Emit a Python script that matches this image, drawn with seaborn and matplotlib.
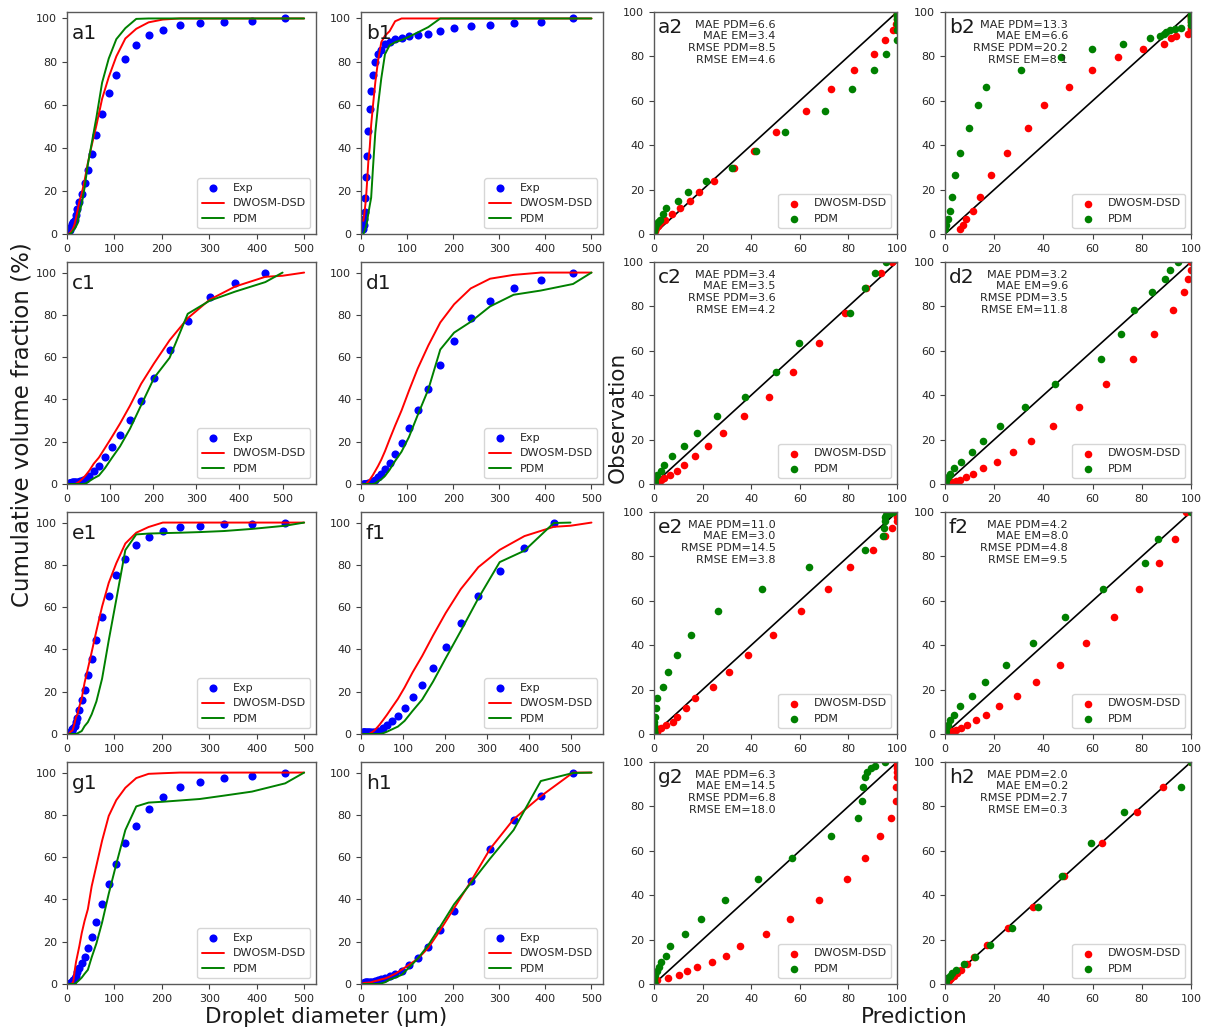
import matplotlib
matplotlib.use("Agg")
import matplotlib.pyplot as plt
import seaborn as sns

sns.set_style("ticks")
plt.rcParams["font.family"] = ["DejaVu Sans"]

# Droplet diameter classes (um) shared by all measured distributions
diameter = [5.0, 5.9, 7.0, 8.2, 9.7, 11.5, 13.5, 16, 19, 22, 26, 31, 37, 44,
            52, 62, 74, 88, 104, 123, 146, 172, 202, 238, 280, 331, 390, 460]

# Cumulative volume fraction (%) per case: experiment, DWOSM-DSD, PDM
exp_a = [1.5, 2.0, 2.6, 3.2, 3.8, 4.6, 5.5, 6.5, 8.8, 11.5, 14.7, 18.7, 23.8, 29.8,
         37.2, 45.8, 55.5, 65.2, 74.0, 81.3, 87.5, 92.1, 94.8, 96.8, 98.0, 98.5, 99.0, 100.0]
dwosm_a = [0.3, 0.5, 0.8, 1.0, 1.5, 2.0, 3.0, 4.6, 7.5, 10.6, 15.0, 18.7, 24.8, 33.0,
           41.0, 50.4, 62.7, 72.8, 82.4, 90.7, 95.2, 98.2, 99.5, 100, 100, 100, 100, 100]
pdm_a = [0, 0, 0, 0.3, 0.6, 1.0, 1.8, 2.4, 3.5, 4.8, 9.9, 13.9, 21.4, 32.3,
         42.0, 54.1, 70.2, 81.4, 90.4, 95.5, 99.8, 100, 100, 100, 100, 100, 100, 100]

exp_b = [2.3, 4.0, 6.9, 10.4, 16.6, 26.6, 36.4, 47.6, 58.0, 66.4, 73.7, 79.6, 83.3, 85.6,
         88.2, 89.2, 90.3, 91.1, 91.7, 92.5, 92.9, 94.2, 95.4, 96.6, 97.2, 98.0, 98.3, 100.0]
dwosm_b = [6.1, 7.2, 8.6, 11.2, 14.1, 18.7, 25.1, 33.9, 40.3, 50.5, 59.7, 70.3, 80.4, 89.0,
           92.0, 94.1, 98.7, 100, 100, 100, 100, 100, 100, 100, 100, 100, 100, 100]
pdm_b = [0, 0.5, 1.1, 1.9, 2.7, 4.2, 6.1, 9.6, 13.3, 16.8, 30.7, 47.0, 59.7, 72.2,
         83.4, 87.5, 89.0, 90.0, 91.5, 93.5, 96.0, 100, 100, 100, 100, 100, 100, 100]

exp_c = [0.3, 0.4, 0.5, 0.6, 0.7, 0.8, 0.9, 1.0, 1.0, 1.0, 1.0, 1.3, 1.8, 2.5,
         4.0, 6.0, 8.7, 12.6, 17.3, 23.1, 30.5, 39.3, 50.3, 63.5, 77.2, 88.5, 95.2, 100.0]
dwosm_c = [0, 0, 0, 0, 0, 0, 0, 0, 0, 0.3, 0.8, 1.5, 2.7, 4.3,
           6.4, 9.6, 12.5, 17.0, 22.2, 28.6, 37.0, 47.4, 57.1, 68.0, 78.4, 87.2, 93.4, 98.0]
pdm_c = [0, 0, 0, 0, 0, 0, 0, 0, 0, 0, 0, 0, 0, 0.3,
         1.4, 2.7, 4.0, 7.5, 12.3, 17.8, 26.1, 37.3, 50.2, 59.7, 80.5, 86.7, 91.0, 95.5]

exp_d = [0.2, 0.2, 0.2, 0.2, 0.2, 0.2, 0.2, 0.3, 0.5, 0.8, 1.2, 1.9, 3.1, 4.7,
         7.0, 10.0, 14.3, 19.4, 26.3, 34.8, 45.0, 56.1, 67.4, 78.4, 86.5, 92.5, 96.5, 100.0]
dwosm_d = [0, 0, 0, 0, 0, 0, 0.6, 1.2, 2.0, 3.0, 4.3, 6.2, 8.5, 11.5,
           15.5, 21.1, 27.6, 34.8, 44.1, 54.6, 65.5, 76.4, 85.0, 92.5, 97.1, 98.9, 100, 100]
pdm_d = [0, 0, 0, 0, 0, 0, 0, 0, 0, 0, 0, 0.3, 1.3, 2.2,
         3.8, 6.7, 10.9, 15.3, 22.2, 32.6, 44.7, 63.6, 71.6, 76.7, 84.0, 89.5, 91.5, 94.6]

exp_e = [0.3, 0.5, 0.8, 1.1, 1.5, 2.2, 2.8, 3.9, 5.5, 7.7, 11.5, 16.0, 21.0, 28.0,
         35.4, 44.5, 55.2, 65.4, 75.2, 82.7, 89.2, 93.0, 95.8, 97.8, 98.6, 99.2, 99.5, 100.0]
dwosm_e = [0.3, 0.6, 0.9, 1.2, 1.4, 1.6, 3.0, 5.1, 8.0, 9.3, 13.0, 16.8, 24.2, 30.9,
           38.7, 48.8, 60.3, 71.5, 80.8, 90.1, 95.2, 97.9, 100, 100, 100, 100, 100, 100]
pdm_e = [0, 0, 0, 0, 0, 0, 0, 0, 0, 0.3, 0.8, 1.4, 3.7, 5.6,
         9.3, 15.4, 26.2, 44.3, 63.7, 87.0, 94.4, 94.8, 95.0, 95.2, 95.5, 96.0, 97.0, 98.5]

exp_f = [0.8, 0.8, 0.8, 0.8, 0.8, 0.8, 0.8, 0.8, 0.8, 0.8, 0.8, 1.0, 1.2, 1.6,
         2.8, 4.2, 6.1, 8.6, 12.4, 17.3, 23.4, 31.3, 41.2, 52.7, 65.3, 77.2, 88.0, 100.0]
dwosm_f = [0, 0, 0, 0, 0, 0, 0, 0, 0, 0.3, 0.8, 1.5, 2.7, 4.3,
           6.4, 9.1, 12.6, 16.6, 22.0, 29.1, 36.9, 46.6, 57.2, 68.5, 78.9, 87.1, 93.6, 98.0]
pdm_f = [0, 0, 0, 0, 0, 0, 0, 0, 0, 0, 0, 0, 0, 0,
         0.3, 1.1, 2.2, 3.5, 6.2, 10.9, 16.3, 24.8, 35.8, 48.7, 64.2, 81.3, 86.7, 99.8]

exp_g = [0.2, 0.3, 0.4, 0.5, 0.6, 0.8, 1.7, 2.8, 3.9, 5.9, 7.5, 9.9, 12.7, 17.1,
         22.4, 29.3, 38.0, 47.3, 56.8, 66.5, 74.8, 82.6, 88.6, 93.1, 95.5, 97.5, 98.3, 100.0]
dwosm_g = [0, 0, 0, 0, 0.2, 0.4, 1.4, 5.9, 10.4, 13.6, 17.9, 24.0, 29.8, 35.4,
           46.2, 56.0, 67.8, 79.5, 87.0, 92.8, 97.4, 99.4, 99.7, 100, 100, 100, 100, 100]
pdm_g = [0, 0, 0, 0, 0, 0, 0, 0, 0.5, 1.1, 1.9, 3.0, 4.8, 6.7,
         12.6, 19.2, 29.1, 42.7, 56.8, 72.8, 84.0, 85.8, 86.2, 86.8, 87.5, 89.1, 91.0, 94.9]

exp_h = [0.6, 0.6, 0.7, 0.7, 0.8, 0.8, 0.8, 0.8, 0.8, 0.8, 1.1, 1.4, 1.7, 2.2,
         2.7, 3.6, 4.9, 6.1, 8.8, 12.2, 17.5, 25.4, 34.7, 48.8, 63.7, 77.5, 88.9, 100.0]
dwosm_h = [0.5, 0.5, 0.5, 0.5, 0.6, 0.6, 0.6, 0.7, 0.7, 0.8, 1.1, 1.4, 1.7, 2.2,
           2.6, 3.5, 4.8, 6.7, 9.1, 11.9, 17.1, 25.5, 35.9, 48.4, 63.9, 77.9, 88.8, 100]
pdm_h = [0, 0, 0, 0, 0, 0, 0, 0, 0, 0, 0, 0, 0, 0.3,
         0.8, 2.0, 3.0, 4.3, 7.7, 12.0, 18.4, 27.2, 37.7, 47.6, 59.3, 72.8, 96.0, 99.8]

# Model curves continue past the largest measured class
dwosm_tail = {"a": ([500], [100]), "b": ([500], [100]), "c": ([500, 550], [98.5, 100]),
              "d": ([500], [100]), "e": ([500], [100]), "f": ([500, 550], [98.5, 100]),
              "g": ([500], [100]), "h": ([500], [100])}
pdm_tail_x = [500]
pdm_tail_y = [100]

# Error metrics per case
cases = ["a", "b", "c", "d", "e", "f", "g", "h"]
mae_pdm = [6.6, 13.3, 3.4, 3.2, 11.0, 4.2, 6.3, 2.0]
mae_em = [3.4, 6.6, 3.5, 9.6, 3.0, 8.0, 14.5, 0.2]
rmse_pdm = [8.5, 20.2, 3.6, 3.5, 14.5, 4.8, 6.8, 2.7]
rmse_em = [4.6, 8.1, 4.2, 11.8, 3.8, 9.5, 18.0, 0.3]

data = {
    "a": (exp_a, dwosm_a, pdm_a), "b": (exp_b, dwosm_b, pdm_b),
    "c": (exp_c, dwosm_c, pdm_c), "d": (exp_d, dwosm_d, pdm_d),
    "e": (exp_e, dwosm_e, pdm_e), "f": (exp_f, dwosm_f, pdm_f),
    "g": (exp_g, dwosm_g, pdm_g), "h": (exp_h, dwosm_h, pdm_h),
}

W, H = 1208, 1033
fig = plt.figure(figsize=(W / 100, H / 100), dpi=100)

col_left = [67, 361, 654, 945]
col_width = [249, 242, 243, 246]
row_top = [12, 262, 512, 762]
row_h = 222

TICK_FS = 8
LEG_FS = 8
NOTE_FS = 8.1
PANEL_FS = 14.5
LABEL_FS = 15.5


def make_ax(row, col):
    l = col_left[col] / W
    b = 1 - (row_top[row] + row_h) / H
    ax = fig.add_axes([l, b, col_width[col] / W, row_h / H])
    ax.tick_params(labelsize=TICK_FS, length=3.5, width=0.8, direction="out",
                   colors="0.25", labelcolor="0.15")
    for sp in ax.spines.values():
        sp.set_linewidth(1.0)
        sp.set_color("0.35")
    return ax


def distribution_panel(ax, key, row):
    exp, dw, pdm = data[key]
    sns.scatterplot(x=diameter, y=exp, ax=ax, color="blue", s=34, linewidth=0,
                    label="Exp", zorder=2)
    tx, ty = dwosm_tail[key]
    sns.lineplot(x=diameter + tx, y=dw + ty, ax=ax, color="red", lw=1.4,
                 label="DWOSM-DSD", zorder=3)
    sns.lineplot(x=diameter + pdm_tail_x, y=pdm + pdm_tail_y, ax=ax,
                 color="green", lw=1.4, label="PDM", zorder=3)
    xmax = max(diameter + tx + pdm_tail_x)
    ax.set_xlim(0, xmax * 1.05)
    ax.set_ylim(0, 103 if row == 0 else 105)
    ax.set_xticks([0, 100, 200, 300, 400, 500])
    ax.set_yticks([0, 20, 40, 60, 80, 100])
    ax.legend(loc="lower right", fontsize=LEG_FS)
    ax.text(0.02, 0.905, key + "1", transform=ax.transAxes, fontsize=PANEL_FS,
            ha="left", va="center", color="0.1")
    ax.set_xlabel("")
    ax.set_ylabel("")


def parity_panel(ax, key):
    exp, dw, pdm = data[key]
    i = cases.index(key)
    ax.plot([0, 100], [0, 100], color="black", lw=1.2, zorder=1)
    sns.scatterplot(x=dw, y=exp, ax=ax, color="red", s=30, linewidth=0,
                    label="DWOSM-DSD", zorder=2)
    sns.scatterplot(x=pdm, y=exp, ax=ax, color="green", s=30, linewidth=0,
                    label="PDM", zorder=2)
    ax.set_xlim(0, 100)
    ax.set_ylim(0, 100)
    ax.set_xticks([0, 20, 40, 60, 80, 100])
    ax.set_yticks([0, 20, 40, 60, 80, 100])
    ax.legend(loc="lower right", fontsize=LEG_FS)
    ax.text(0.015, 0.93, key + "2", transform=ax.transAxes, fontsize=PANEL_FS,
            ha="left", va="center", color="0.1")
    txt = (f"MAE PDM={mae_pdm[i]:.1f}\nMAE EM={mae_em[i]:.1f}\n"
           f"RMSE PDM={rmse_pdm[i]:.1f}\nRMSE EM={rmse_em[i]:.1f}")
    ax.text(0.5, 0.965, txt, transform=ax.transAxes, fontsize=NOTE_FS,
            ha="right", va="top", multialignment="right", color="0.15",
            linespacing=1.2)
    ax.set_xlabel("")
    ax.set_ylabel("")


pairs = [("a", "b"), ("c", "d"), ("e", "f"), ("g", "h")]
for r, (k1, k2) in enumerate(pairs):
    distribution_panel(make_ax(r, 0), k1, r)
    distribution_panel(make_ax(r, 1), k2, r)
    parity_panel(make_ax(r, 2), k1)
    parity_panel(make_ax(r, 3), k2)

fig.text(0.018, 0.589, "Cumulative volume fraction (%)", rotation=90,
         ha="center", va="center", fontsize=16.5, color="0.1")
fig.text(0.5115, 0.596, "Observation", rotation=90,
         ha="center", va="center", fontsize=LABEL_FS, color="0.1")
fig.text(0.27, 0.0155, "Droplet diameter (\u00b5m)",
         ha="center", va="center", fontsize=LABEL_FS, color="0.1")
fig.text(0.757, 0.0155, "Prediction",
         ha="center", va="center", fontsize=LABEL_FS, color="0.1")

fig.savefig("out.png", dpi=100, facecolor="white")
